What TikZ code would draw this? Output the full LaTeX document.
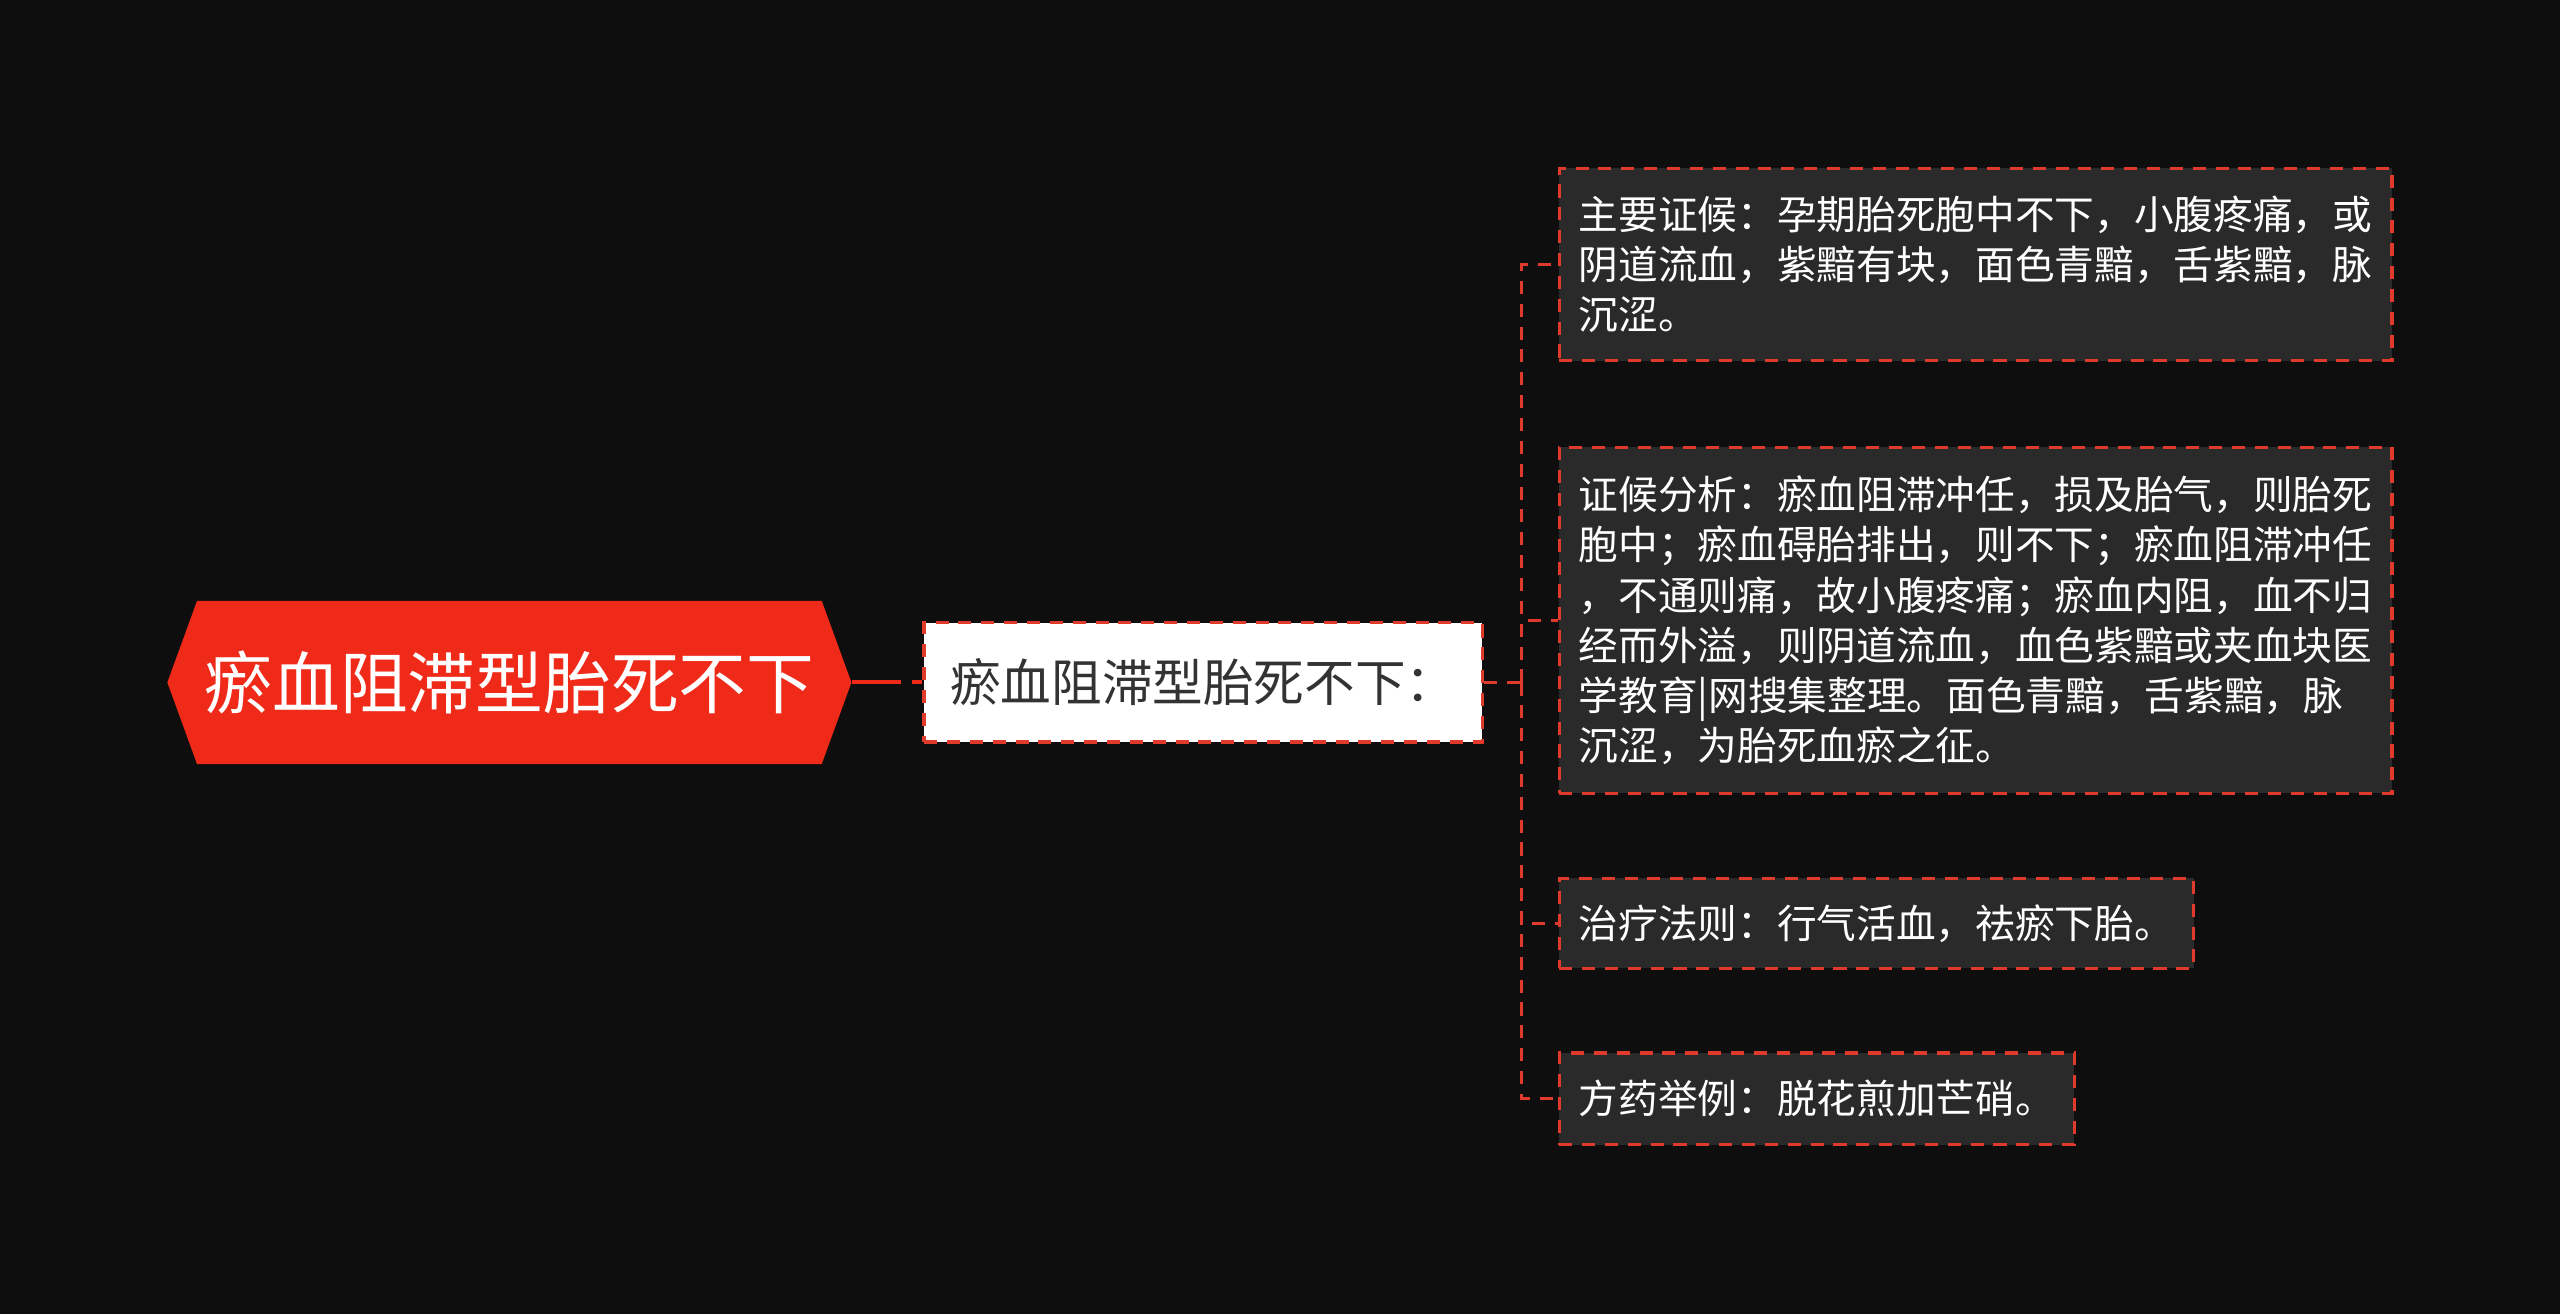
\documentclass[tikz,border=0pt]{standalone}
\usepackage{fontspec}
\newfontfamily\cjk{Noto Sans CJK SC}
\usepackage{tikz}
\usetikzlibrary{shapes.symbols}

\definecolor{bgblack}{HTML}{0E0E0E}
\definecolor{rootred}{HTML}{F02A19}
\definecolor{linered}{HTML}{E03A2C}
\definecolor{leafgray}{HTML}{2A2A2A}
\definecolor{midtext}{HTML}{333333}

\tikzset{
    rootnode/.style={shape=signal, signal to=west and east, signal pointer angle=140,
        fill=rootred, text=white, font=\cjk\fontsize{41.5}{50}\selectfont,
        minimum width=419pt, minimum height=100pt, inner sep=0pt},
    midnode/.style={draw=linered, line width=2pt, dash pattern=on 8pt off 6pt,
        fill=white, text=midtext, font=\cjk\fontsize{31}{38}\selectfont,
        minimum height=73pt, inner xsep=16pt, anchor=west},
    leafnode/.style={draw=linered, line width=2pt, dash pattern=on 8pt off 6pt,
        fill=leafgray, text=white, font=\cjk\fontsize{24.3}{30.8}\selectfont,
        align=left, inner xsep=12pt, anchor=west},
    redline/.style={draw=linered, line width=2pt, dash pattern=on 8pt off 6pt},
    rootline/.style={draw=rootred, line width=2.5pt, dash pattern=on 30pt off 7pt on 7pt off 7pt}
}

\begin{document}
\begin{tikzpicture}[x=1pt, y=-1pt]
        \fill [bgblack] (0,0) rectangle (1568,805);
        \useasboundingbox (0,0) rectangle (1568,805);

        \node [rootnode] (root) at (312,418) {瘀血阻滞型胎死不下};
        \node [midnode] (mid) at (565,418) {瘀血阻滞型胎死不下：};

        \node [leafnode, text width=486pt, minimum height=118pt] (main) at (954,162)
            {主要证候：孕期胎死胞中不下，小腹疼痛，或\\阴道流血，紫黯有块，面色青黯，舌紫黯，脉\\沉涩。};
        \node [leafnode, text width=486pt, minimum height=212pt] (anal) at (954,380)
            {证候分析：瘀血阻滞冲任，损及胎气，则胎死\\胞中；瘀血碍胎排出，则不下；瘀血阻滞冲任\\，不通则痛，故小腹疼痛；瘀血内阻，血不归\\经而外溢，则阴道流血，血色紫黯或夹血块医\\学教育|网搜集整理。面色青黯，舌紫黯，脉\\沉涩，为胎死血瘀之征。};
        \node [leafnode, minimum height=55pt] (rule) at (954,565.5) {治疗法则：行气活血，祛瘀下胎。};
        \node [leafnode, minimum height=56pt] (rx) at (954,673) {方药举例：脱花煎加芒硝。};

        \coordinate (fork) at (932,418);
        \draw [rootline] (root.east) -- (mid.west);
        \draw [redline] (mid.east) -- (fork);
        \foreach \n in {main, anal, rule, rx}
            \draw [redline] (fork) |- (\n.west);
    \end{tikzpicture}
\end{document}
